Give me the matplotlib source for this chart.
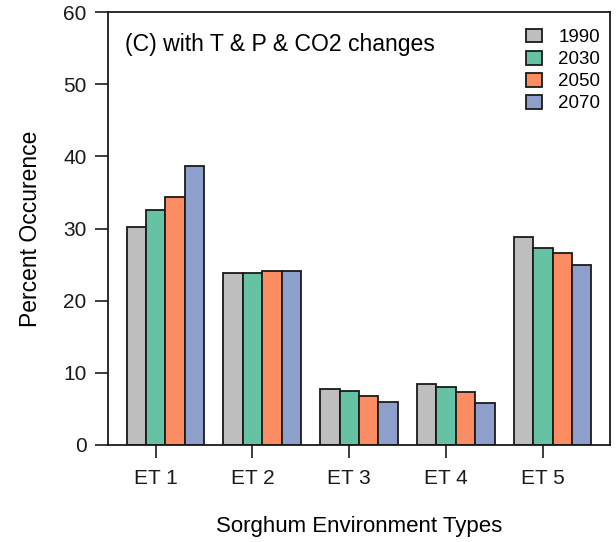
import matplotlib
matplotlib.use("Agg")
import matplotlib.pyplot as plt
import numpy as np

plt.rcParams['font.family'] = ['Liberation Sans', 'DejaVu Sans']

categories = ["ET 1", "ET 2", "ET 3", "ET 4", "ET 5"]
years = ["1990", "2030", "2050", "2070"]
values = {
    "1990": [30.2, 23.9, 7.8, 8.5, 28.8],
    "2030": [32.5, 23.9, 7.5, 8.0, 27.3],
    "2050": [34.4, 24.1, 6.8, 7.3, 26.6],
    "2070": [38.6, 24.1, 6.0, 5.8, 24.9],
}
colors = ["#BEBEBE", "#66C2A5", "#FC8D62", "#8DA0CB"]

fig = plt.figure(figsize=(6.16, 5.42), dpi=100)
ax = fig.add_axes([108/616, 1-445/542, 502/616, 433/542])

ngroup = len(categories)
nbar = len(years)
step = nbar + 1
for k, (yr, col) in enumerate(zip(years, colors)):
    lefts = 1 + step*np.arange(ngroup) + k
    ax.bar(lefts, values[yr], width=1.0, align='edge', color=col,
           edgecolor='#1a1a1a', linewidth=1.3, label=yr, zorder=2)

ax.set_xlim(0.04, 25.96)
ax.set_ylim(0, 60)
ax.set_yticks(np.arange(0, 61, 10))
ax.set_xticks(2.5 + step*np.arange(ngroup))
ax.set_xticklabels(categories)
ax.tick_params(axis='both', direction='out', length=9.4, width=1.2,
               labelsize=15, pad=6, colors='#1a1a1a')
ax.tick_params(axis='x', pad=8)
for s in ax.spines.values():
    s.set_linewidth(1.3)
    s.set_color('#1a1a1a')

ax.set_xlabel("Sorghum Environment Types", fontsize=16, labelpad=20)
ax.set_ylabel("Percent Occurence", fontsize=16.5, labelpad=15)

ax.text(0.034, 0.926, "(C) with T & P & CO2 changes", transform=ax.transAxes,
        fontsize=16.6, va='center', ha='left')

ax.legend(loc='upper right', frameon=False, fontsize=13.5,
          handlelength=0.85, handleheight=0.75, handletextpad=0.85,
          labelspacing=0.25, borderaxespad=0.6, borderpad=0.4,
          bbox_to_anchor=(1 + 9/502, 1 + 2/433))

fig.savefig("out.png", dpi=100)
